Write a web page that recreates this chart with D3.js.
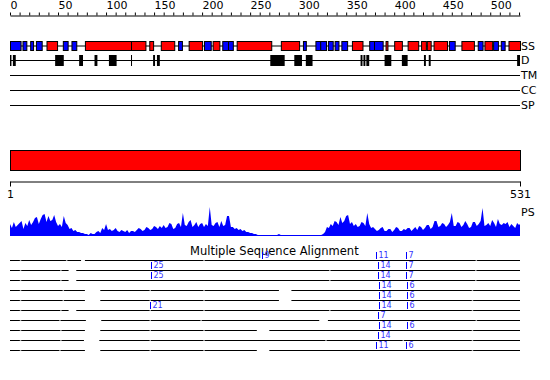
<!DOCTYPE html>
<html>
<head>
<meta charset="utf-8">
<script src="https://cdn.jsdelivr.net/npm/d3@7"></script>
<style>
  body { margin: 0; background: #fff; }
  svg { display: block; font-family: "DejaVu Sans", sans-serif; }
</style>
</head>
<body>
<script>
// sequence length and track labels
const seqLen = 531;
const trackLabels = ["SS", "D", "TM", "CC", "SP"];

// secondary structure (helix = red, strand = blue), residue ranges
const ssRed = [[38,49],[78,126],[126,141],[145,149],[157,171],[186,200],[211,218],[236,272],
  [282,301],[356,367],[391,393],[400,408],[414,425],[428,433],[434,438],[441,455],[470,483],
  [494,502],[519,531]];
const ssBlue = [[0,11],[13,17],[21,24],[27,33],[55,60],[64,69],[175,179],[202,209],[221,227],
  [227,232],[305,308],[318,323],[323,329],[331,336],[338,342],[345,351],[374,379],[379,388],
  [457,463],[487,492],[503,508],[511,515]];

// disorder regions
const dBoxes = [[0,1.5],[3,6],[47,56],[72,76],[88,91],[103,111],[126,126.6],[149,151],[153,156],
  [271,286],[296,304],[308,315],[365,367],[368,370],[371,374],[390,397],[408,414],[431,433],
  [436,438],[528,531]];

// PS profile, one value every 2 residues (last one at 531)
const psValues = [
  12,8,14,9,11,13,15,7,13,10,
  16,11,14,18,19,12,17,21,22,14,
  20,15,16,21,14,10,12,9,20,13,
  11,7,8,5,6,4,4,3,3,2,
  2,1,3,2,2,4,5,3,8,6,
  12,6,7,5,6,8,5,4,6,5,
  4,6,3,5,5,4,6,8,7,5,
  6,9,8,6,7,10,9,7,10,8,
  11,8,9,13,12,7,8,12,13,9,
  23,11,10,14,16,9,11,14,9,12,
  13,9,12,10,29,11,10,13,14,9,
  15,10,11,20,20,9,9,7,8,6,
  7,5,6,4,4,3,3,2,2,1,
  1,1,1,1,1,1,1,1,1,1,
  2,1,1,1,1,1,1,1,1,1,
  1,1,1,1,1,1,1,1,1,1,
  1,1,1,2,4,9,8,12,10,15,
  14,11,19,13,15,20,21,12,14,10,
  12,9,10,14,13,10,23,12,8,9,
  7,5,6,8,9,5,5,7,7,4,
  6,9,8,5,5,7,6,8,8,5,
  7,9,6,10,9,6,8,11,11,7,
  9,15,15,9,10,13,12,9,11,14,
  23,10,10,14,13,9,11,15,12,8,
  9,14,14,10,12,15,28,10,11,13,
  10,16,13,9,17,12,11,13,12,14,
  9,12,10,8,13,11,
  12
];
const psPos = d3.range(0, 531, 2).concat([531]);

// multiple sequence alignment: blocks (between gaps), breaks, insert markers
const msaBlocks = [
  [[0,74],[78,531]],
  [[0,61],[69,531]],
  [[0,61],[69,531]],
  [[0,78],[94,280],[293,531]],
  [[0,78],[94,280],[293,531]],
  [[0,61],[69,531]],
  [[0,79],[95,322],[331,531]],
  [[0,78],[94,257],[270,531]],
  [[0,77],[93,531]],
  [[0,78],[94,257],[270,531]]
];
const msaBreaks = [
  [11,59,202,485.5],
  [11,53,333,485],
  [11,53,333,485],
  [11,55.5,146,202,481.5],
  [11,55.5,146,202,481.5],
  [11,53,146,202,333,481.5],
  [11,52,146,199,485.5],
  [11,53,146,202,481.5],
  [11,53,146,202,329,409.5,481.5],
  [11,52,146,202,481.5]
];
const msaMarks = [
  [[262,"9"],[381,"11"],[412,"7"]],
  [[147,"25"],[383.5,"14"],[412,"7"]],
  [[147,"25"],[383.5,"14"],[412,"7"]],
  [[384.5,"14"],[413,"6"]],
  [[384.5,"14"],[413,"6"]],
  [[146,"21"],[384,"14"],[413,"6"]],
  [[383,"7"]],
  [[384,"14"],[413,"6"]],
  [[383,"14"]],
  [[381,"11"],[412,"6"]]
];

const W = 550, H = 380;
const svg = d3.select("body").append("svg").attr("width", W).attr("height", H);

const x = d3.scaleLinear().domain([0, seqLen]).range([10, 520]);
const xr = d3.scaleLinear().domain([1, seqLen]).range([10, 520]);

// top axis
const topAxis = d3.axisTop(x)
    .tickValues(d3.range(0, seqLen, 10))
    .tickFormat(d => d % 50 === 0 ? d : "")
    .tickSize(3)
    .tickSizeOuter(0)
    .tickPadding(4);
const gTop = svg.append("g").attr("transform", "translate(0,15.5)").call(topAxis);
gTop.selectAll("text").attr("text-anchor", "start").attr("fill", "#000")
    .attr("font-size", 11).attr("font-family", "DejaVu Sans");
gTop.selectAll("line,path").attr("stroke", "#000");

// track rows
const rowY = [46, 60.5, 75.5, 90.5, 105.5];
rowY.forEach((y, i) => {
  svg.append("line").attr("x1", x(0)).attr("x2", x(seqLen))
      .attr("y1", y).attr("y2", y).attr("stroke", "#000");
  svg.append("text").attr("x", 521).attr("y", y).attr("dy", "0.36em")
      .attr("font-size", 11).text(trackLabels[i]);
});

svg.append("g").selectAll("rect").data(ssRed).join("rect")
    .attr("x", d => x(d[0]) + 0.5).attr("y", 41.5)
    .attr("width", d => x(d[1]) - x(d[0])).attr("height", 9)
    .attr("fill", "#ff0000").attr("stroke", "#000");
svg.append("g").selectAll("rect").data(ssBlue).join("rect")
    .attr("x", d => x(d[0]) + 0.5).attr("y", 41.5)
    .attr("width", d => x(d[1]) - x(d[0])).attr("height", 9)
    .attr("fill", "#0000ff").attr("stroke", "#000");

svg.append("g").selectAll("rect").data(dBoxes).join("rect")
    .attr("x", d => x(d[0])).attr("y", 55)
    .attr("width", d => Math.max(1, x(d[1]) - x(d[0]))).attr("height", 11)
    .attr("fill", "#000");

// full-length red bar
svg.append("rect").attr("x", x(0) + 0.5).attr("y", 150.5)
    .attr("width", x(seqLen) - x(0)).attr("height", 20)
    .attr("fill", "#ff0000").attr("stroke", "#000");

// ruler
const ruler = d3.axisBottom(xr).tickValues([1, seqLen]).tickSize(5).tickSizeOuter(0).tickPadding(4);
const gR = svg.append("g").attr("transform", "translate(0,181.5)").call(ruler);
gR.selectAll("text").attr("fill", "#000").attr("font-size", 11).attr("font-family", "DejaVu Sans");
gR.selectAll("line,path").attr("stroke", "#000");

// PS profile
const yPS = d3.scaleLinear().domain([0, 30]).range([236, 206]);
const area = d3.area()
    .x((d, i) => x(psPos[i]))
    .y0(236)
    .y1(d => yPS(d));
svg.append("path").datum(psValues).attr("d", area).attr("fill", "#0000ff");
svg.append("text").attr("x", 521).attr("y", 216).attr("font-size", 11).text("PS");

// MSA
svg.append("text").attr("x", 190).attr("y", 255).attr("font-size", 11.5)
    .text("Multiple Sequence Alignment");

msaBlocks.forEach((blocks, i) => {
  const y = 260.5 + i * 10;
  const g = svg.append("g");
  g.selectAll("line.b").data(blocks).join("line").attr("class", "b")
      .attr("x1", d => x(d[0])).attr("x2", d => x(d[1]))
      .attr("y1", y).attr("y2", y).attr("stroke", "#000");
  g.selectAll("rect.k").data(msaBreaks[i]).join("rect").attr("class", "k")
      .attr("x", d => x(d) - 0.75).attr("y", y - 0.5)
      .attr("width", 1.5).attr("height", 1).attr("fill", "#aaa");
  const m = g.selectAll("g.m").data(msaMarks[i]).join("g").attr("class", "m")
      .attr("transform", d => `translate(${Math.round(x(d[0])) + 0.5},${y - 0.5})`);
  m.append("line").attr("y1", -8).attr("y2", -1).attr("stroke", "#0000ff");
  m.append("text").attr("x", 2).attr("y", -2).attr("font-size", 8)
      .attr("fill", "#3333ff").text(d => d[1]);
});
</script>
</body>
</html>
